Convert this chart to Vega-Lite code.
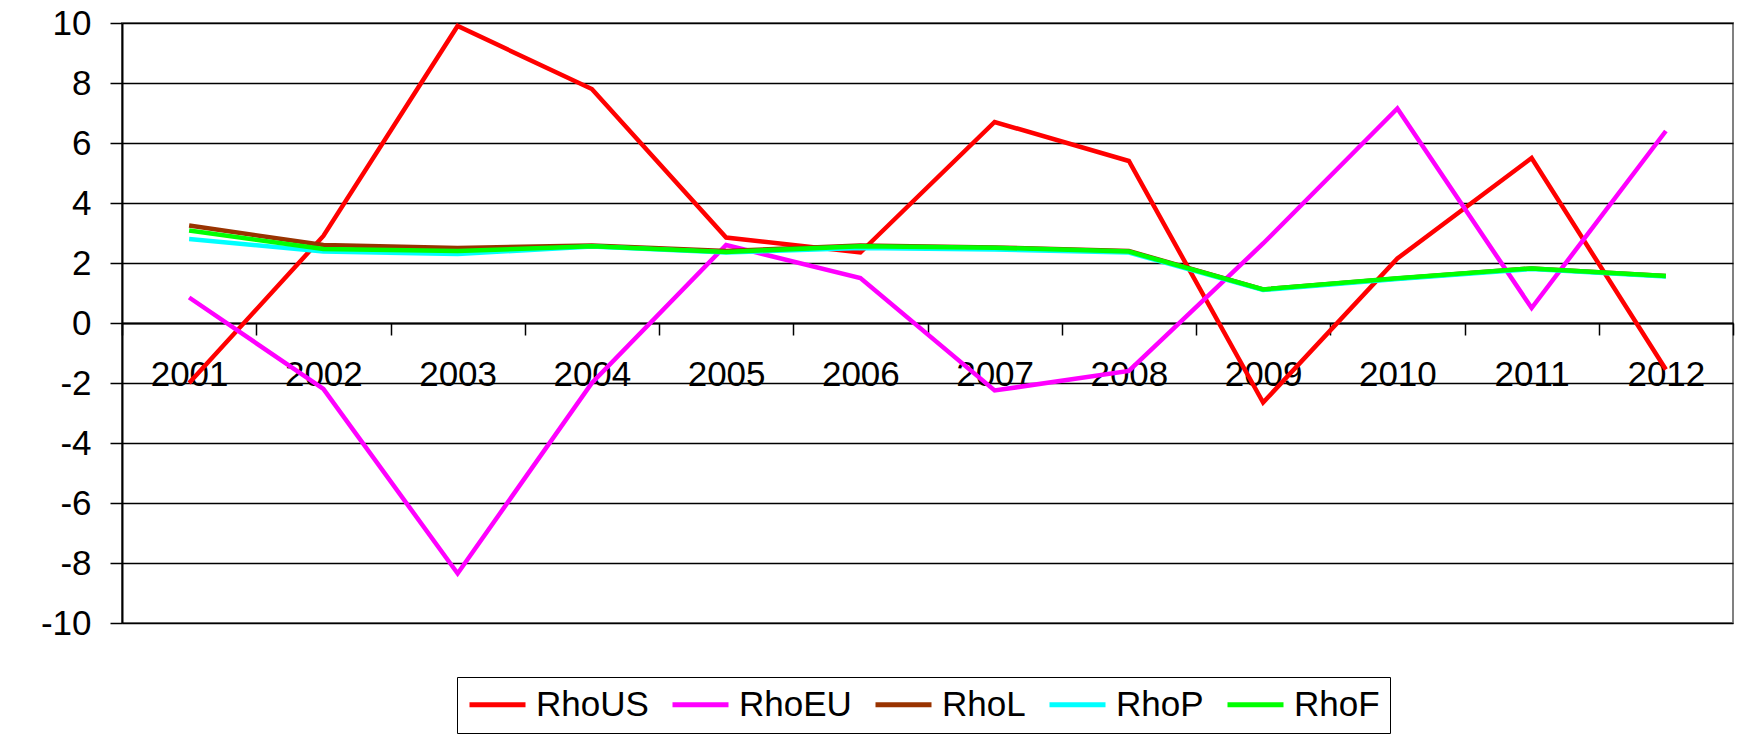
{
  "$schema": "https://vega.github.io/schema/vega-lite/v6.json",
  "width": 1611,
  "height": 600,
  "autosize": {"type": "none"},
  "padding": {"left": 122, "top": 23, "right": 14, "bottom": 112},
  "background": "white",
  "config": {
    "font": "Liberation Sans",
    "view": {"stroke": "#808080", "strokeWidth": 2}
  },
  "data": {
    "values": [
      {"year": "2001", "series": "RhoUS", "value": -2.0},
      {"year": "2002", "series": "RhoUS", "value": 2.9},
      {"year": "2003", "series": "RhoUS", "value": 9.9},
      {"year": "2004", "series": "RhoUS", "value": 7.8},
      {"year": "2005", "series": "RhoUS", "value": 2.85},
      {"year": "2006", "series": "RhoUS", "value": 2.35},
      {"year": "2007", "series": "RhoUS", "value": 6.7},
      {"year": "2008", "series": "RhoUS", "value": 5.4},
      {"year": "2009", "series": "RhoUS", "value": -2.65},
      {"year": "2010", "series": "RhoUS", "value": 2.15},
      {"year": "2011", "series": "RhoUS", "value": 5.5},
      {"year": "2012", "series": "RhoUS", "value": -1.55},
      {"year": "2001", "series": "RhoEU", "value": 0.85},
      {"year": "2002", "series": "RhoEU", "value": -2.2},
      {"year": "2003", "series": "RhoEU", "value": -8.35},
      {"year": "2004", "series": "RhoEU", "value": -2.0},
      {"year": "2005", "series": "RhoEU", "value": 2.6},
      {"year": "2006", "series": "RhoEU", "value": 1.5},
      {"year": "2007", "series": "RhoEU", "value": -2.25},
      {"year": "2008", "series": "RhoEU", "value": -1.6},
      {"year": "2009", "series": "RhoEU", "value": 2.65},
      {"year": "2010", "series": "RhoEU", "value": 7.15},
      {"year": "2011", "series": "RhoEU", "value": 0.5},
      {"year": "2012", "series": "RhoEU", "value": 6.4},
      {"year": "2001", "series": "RhoL", "value": 3.25},
      {"year": "2002", "series": "RhoL", "value": 2.6},
      {"year": "2003", "series": "RhoL", "value": 2.5},
      {"year": "2004", "series": "RhoL", "value": 2.58},
      {"year": "2005", "series": "RhoL", "value": 2.4},
      {"year": "2006", "series": "RhoL", "value": 2.58},
      {"year": "2007", "series": "RhoL", "value": 2.52},
      {"year": "2008", "series": "RhoL", "value": 2.4},
      {"year": "2009", "series": "RhoL", "value": 1.12},
      {"year": "2010", "series": "RhoL", "value": 1.48},
      {"year": "2011", "series": "RhoL", "value": 1.82},
      {"year": "2012", "series": "RhoL", "value": 1.57},
      {"year": "2001", "series": "RhoP", "value": 2.8},
      {"year": "2002", "series": "RhoP", "value": 2.38},
      {"year": "2003", "series": "RhoP", "value": 2.3},
      {"year": "2004", "series": "RhoP", "value": 2.55},
      {"year": "2005", "series": "RhoP", "value": 2.35},
      {"year": "2006", "series": "RhoP", "value": 2.5},
      {"year": "2007", "series": "RhoP", "value": 2.45},
      {"year": "2008", "series": "RhoP", "value": 2.35},
      {"year": "2009", "series": "RhoP", "value": 1.1},
      {"year": "2010", "series": "RhoP", "value": 1.47},
      {"year": "2011", "series": "RhoP", "value": 1.8},
      {"year": "2012", "series": "RhoP", "value": 1.55},
      {"year": "2001", "series": "RhoF", "value": 3.08},
      {"year": "2002", "series": "RhoF", "value": 2.47},
      {"year": "2003", "series": "RhoF", "value": 2.4},
      {"year": "2004", "series": "RhoF", "value": 2.56},
      {"year": "2005", "series": "RhoF", "value": 2.37},
      {"year": "2006", "series": "RhoF", "value": 2.56},
      {"year": "2007", "series": "RhoF", "value": 2.51},
      {"year": "2008", "series": "RhoF", "value": 2.38},
      {"year": "2009", "series": "RhoF", "value": 1.12},
      {"year": "2010", "series": "RhoF", "value": 1.49},
      {"year": "2011", "series": "RhoF", "value": 1.82},
      {"year": "2012", "series": "RhoF", "value": 1.57}
    ]
  },
  "mark": {"type": "line", "strokeWidth": 4.5, "strokeJoin": "miter"},
  "encoding": {
    "x": {
      "field": "year",
      "type": "ordinal",
      "scale": {"type": "band", "paddingInner": 0, "paddingOuter": 0},
      "axis": {
        "title": null,
        "offset": -300,
        "labelAngle": 0,
        "labelFontSize": 35,
        "labelColor": "black",
        "labelPadding": 22,
        "tickBand": "extent",
        "tickSize": 12,
        "tickColor": "black",
        "tickWidth": 1.5,
        "domainColor": "black",
        "domainWidth": 2,
        "grid": false,
        "zindex": 0
      }
    },
    "y": {
      "field": "value",
      "type": "quantitative",
      "scale": {"domain": [-10, 10], "nice": false, "zero": false},
      "axis": {
        "title": null,
        "values": [-10, -8, -6, -4, -2, 0, 2, 4, 6, 8, 10],
        "labelExpr": "replace(datum.label, '\u2212', '-')",
        "labelFontSize": 35,
        "labelColor": "black",
        "labelPadding": 19,
        "tickSize": 12,
        "tickColor": "black",
        "tickWidth": 1.5,
        "domainColor": "black",
        "domainWidth": 2,
        "grid": true,
        "gridColor": "black",
        "gridWidth": 1.5,
        "zindex": 0
      }
    },
    "color": {
      "field": "series",
      "type": "nominal",
      "sort": ["RhoUS", "RhoEU", "RhoL", "RhoP", "RhoF"],
      "scale": {
        "domain": ["RhoUS", "RhoEU", "RhoL", "RhoP", "RhoF"],
        "range": ["#FF0000", "#FF00FF", "#993300", "#00FFFF", "#00FF00"]
      },
      "legend": {
        "title": null,
        "orient": "none",
        "legendX": 335,
        "legendY": 654,
        "direction": "horizontal",
        "labelFontSize": 35,
        "labelColor": "black",
        "labelOffset": 21,
        "columnPadding": 13,
        "symbolType": "M-2,0H2",
        "symbolSize": 784,
        "symbolOffset": 13,
        "symbolStrokeWidth": 5,
        "strokeColor": "black",
        "padding": 10
      }
    }
  }
}
